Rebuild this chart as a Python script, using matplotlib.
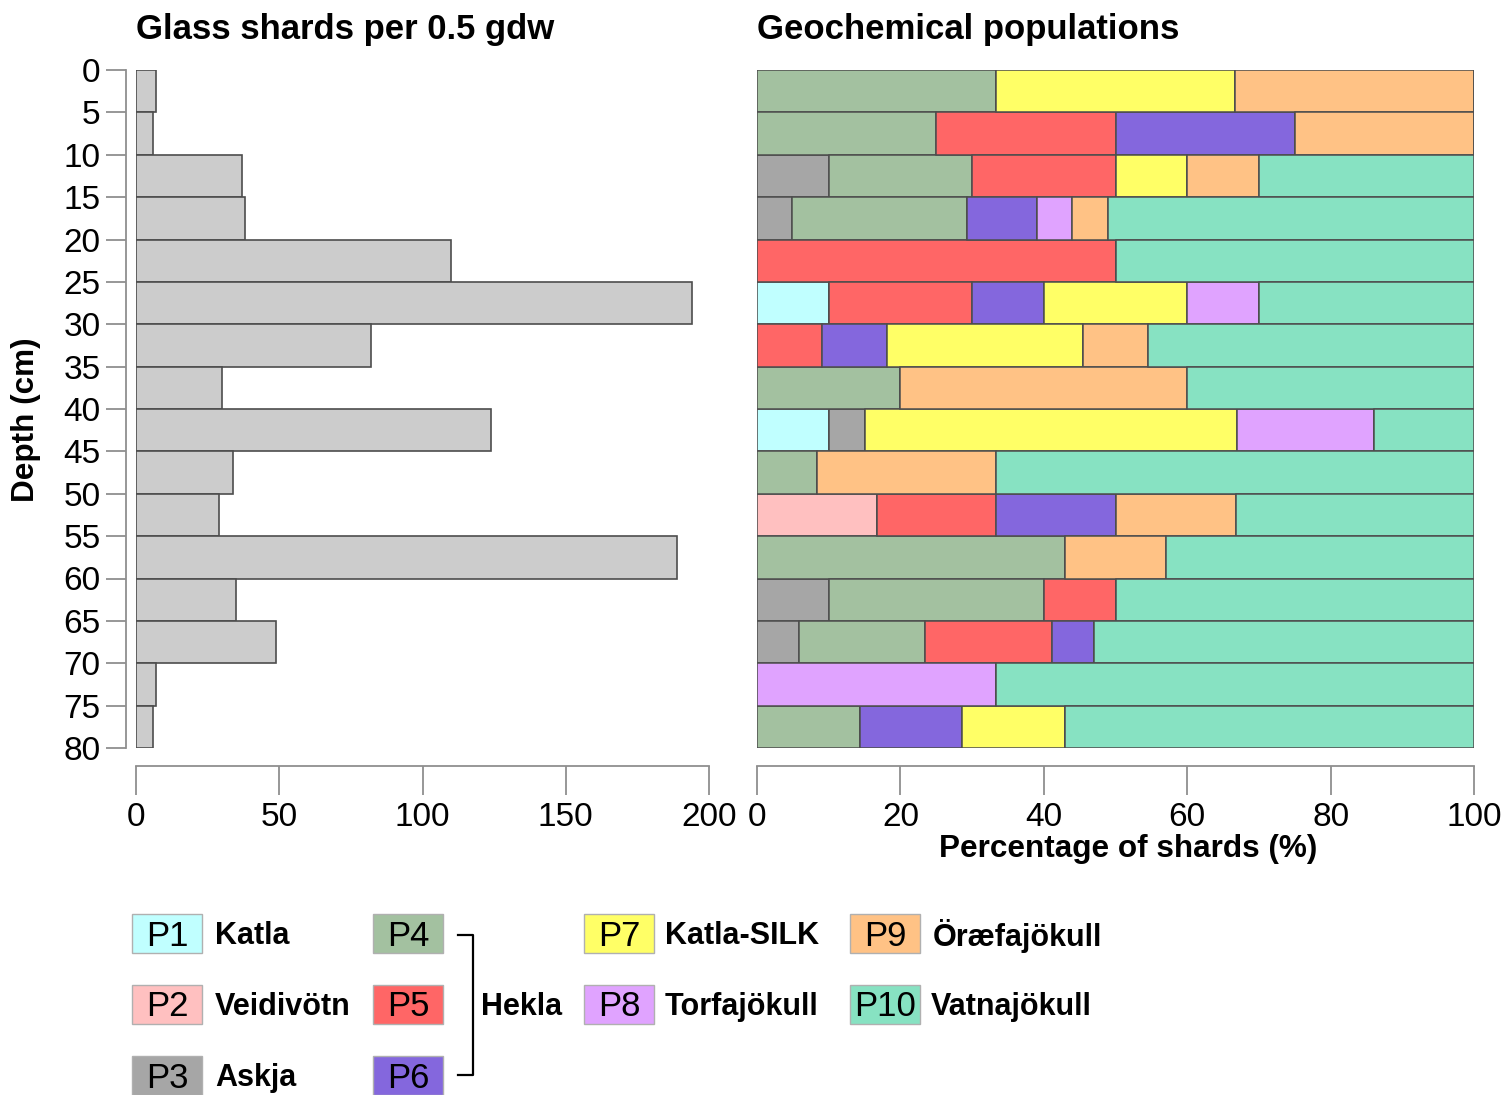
import matplotlib
matplotlib.use("Agg")
import matplotlib.pyplot as plt
from matplotlib.patches import Rectangle
from matplotlib.lines import Line2D
import numpy as np

plt.rcParams['font.family'] = ['Liberation Sans', 'DejaVu Sans']

# ---------------- data ----------------
depth_top = [0, 5, 10, 15, 20, 25, 30, 35, 40, 45, 50, 55, 60, 65, 70, 75]
depth_ticks = [0, 5, 10, 15, 20, 25, 30, 35, 40, 45, 50, 55, 60, 65, 70, 75, 80]
shard_counts = [7, 6, 37, 38, 110, 194, 82, 30, 124, 34, 29, 189, 35, 49, 7, 6]

pop_codes = ["P1", "P2", "P3", "P4", "P5", "P6", "P7", "P8", "P9", "P10"]
pop_names = ["Katla", "Veidivötn", "Askja", "", "", "", "Katla-SILK",
             "Torfajökull", "Öræfajökull", "Vatnajökull"]
pop_colors = ["#C0FFFF", "#FFC0C0", "#A6A6A6", "#A3C1A0", "#FF6666",
              "#8467DD", "#FFFF66", "#E0A3FF", "#FFC285", "#87E2C2"]

P1 = [0, 0, 0, 0, 0, 10, 0, 0, 10, 0, 0, 0, 0, 0, 0, 0]
P2 = [0, 0, 0, 0, 0, 0, 0, 0, 0, 0, 16.7, 0, 0, 0, 0, 0]
P3 = [0, 0, 10, 4.9, 0, 0, 0, 0, 5, 0, 0, 0, 10, 5.9, 0, 0]
P4 = [33.3, 25, 20, 24.4, 0, 0, 0, 20, 0, 8.3, 0, 42.9, 30, 17.6, 0, 14.3]
P5 = [0, 25, 20, 0, 50, 20, 9.1, 0, 0, 0, 16.7, 0, 10, 17.6, 0, 0]
P6 = [0, 25, 0, 9.8, 0, 10, 9.1, 0, 0, 0, 16.7, 0, 0, 5.9, 0, 14.3]
P7 = [33.3, 0, 10, 0, 0, 20, 27.3, 0, 52, 0, 0, 0, 0, 0, 0, 14.3]
P8 = [0, 0, 0, 4.9, 0, 10, 0, 0, 19, 0, 0, 0, 0, 0, 33.3, 0]
P9 = [33.4, 25, 10, 4.9, 0, 0, 9.1, 40, 0, 25, 16.7, 14.2, 0, 0, 0, 0]
P10 = [0, 0, 30, 51.1, 50, 30, 45.4, 40, 14, 66.7, 33.2, 42.9, 50, 53, 66.7, 57.1]
pop_values = [P1, P2, P3, P4, P5, P6, P7, P8, P9, P10]

count_ticks = [0, 50, 100, 150, 200]
pct_ticks = [0, 20, 40, 60, 80, 100]

# ---------------- layout ----------------
W, H = 1504, 1095
fig = plt.figure(figsize=(W / 100, H / 100), dpi=100)

def fx(px):
    return px / W

def fy(py):
    return 1 - py / H

axis_grey = "#8f8f8f"
edge_dark = "#4d4d4d"
fs = 22
tfs = 24

ax1 = fig.add_axes([fx(136), fy(748), fx(709) - fx(136), fy(70) - fy(748)])
ax2 = fig.add_axes([fx(757), fy(748), fx(1474) - fx(757), fy(70) - fy(748)])

# left panel
ax1.barh(depth_top, shard_counts, height=5, align='edge', color="#CCCCCC",
         edgecolor=edge_dark, linewidth=1.2)
ax1.set_xlim(0, 200)
ax1.set_ylim(80, 0)
ax1.set_xticks(count_ticks)
ax1.set_yticks(depth_ticks)
for s in ["top", "right"]:
    ax1.spines[s].set_visible(False)
ax1.spines["left"].set_position(("outward", 7.2))
ax1.spines["bottom"].set_position(("outward", 13))
ax1.spines["left"].set_bounds(0, 80)
ax1.spines["bottom"].set_bounds(0, 200)
for s in ["left", "bottom"]:
    ax1.spines[s].set_color(axis_grey)
    ax1.spines[s].set_linewidth(1.3)
ax1.tick_params(axis="y", length=14.4, width=1.3, color=axis_grey, pad=4, labelsize=tfs)
ax1.tick_params(axis="x", length=21, width=1.3, color=axis_grey, pad=5, labelsize=tfs)

# right panel
left = np.zeros(len(depth_top))
for vals, col in zip(pop_values, pop_colors):
    v = np.array(vals, dtype=float)
    ax2.barh(depth_top, v, left=left, height=5, align='edge', color=col,
             edgecolor=edge_dark, linewidth=1.1)
    left = left + v
ax2.set_xlim(0, 100)
ax2.set_ylim(80, 0)
ax2.set_xticks(pct_ticks)
ax2.set_yticks([])
for s in ["top", "right", "left"]:
    ax2.spines[s].set_visible(False)
ax2.spines["bottom"].set_position(("outward", 13))
ax2.spines["bottom"].set_bounds(0, 100)
ax2.spines["bottom"].set_color(axis_grey)
ax2.spines["bottom"].set_linewidth(1.3)
ax2.tick_params(axis="x", length=21, width=1.3, color=axis_grey, pad=5, labelsize=tfs)

# titles and axis labels
fig.text(fx(136), fy(29), "Glass shards per 0.5 gdw", fontsize=25, fontweight="bold",
         ha="left", va="center")
fig.text(fx(757), fy(29), "Geochemical populations", fontsize=25, fontweight="bold",
         ha="left", va="center")
fig.text(fx(1128), fy(849), "Percentage of shards (%)", fontsize=22.7, fontweight="bold",
         ha="center", va="center")
fig.text(fx(26), fy(420), "Depth (cm)", fontsize=22.7, fontweight="bold",
         ha="center", va="center", rotation=90)

# legend (manual)
box_x = [132, 132, 132, 373, 373, 373, 584, 584, 850, 850]
row_y = [933, 1004, 1075, 933, 1004, 1075, 933, 1004, 933, 1004]
text_x = [215, 215, 215, None, None, None, 665, 665, 933, 931]
bw, bh = 70, 39
for code, name, col, bx, ry, tx in zip(pop_codes, pop_names, pop_colors, box_x, row_y, text_x):
    fig.add_artist(Rectangle((fx(bx), fy(ry + bh / 2)), bw / W, bh / H,
                             transform=fig.transFigure, facecolor=col,
                             edgecolor="#b0b0b0", linewidth=1.0))
    fig.text(fx(bx + bw / 2), fy(ry + 3), code, fontsize=25, ha="center", va="center")
    if tx is not None and name:
        fig.text(fx(tx), fy(ry + 3), name, fontsize=fs, fontweight="bold",
                 ha="left", va="center")

# Hekla bracket
bracket_x = [458, 473, 473, 458]
bracket_y = [935, 935, 1075, 1075]
fig.add_artist(Line2D([fx(v) for v in bracket_x], [fy(v) for v in bracket_y],
                      transform=fig.transFigure, color="black", linewidth=1.6))
fig.text(fx(481), fy(1007), "Hekla", fontsize=fs, fontweight="bold",
         ha="left", va="center")

fig.savefig("out.png", dpi=100)
